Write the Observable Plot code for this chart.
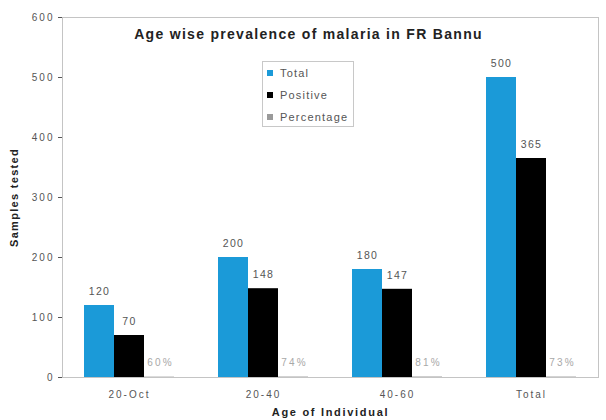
<!DOCTYPE html>
<html>
<head>
<meta charset="utf-8">
<script src="https://cdn.jsdelivr.net/npm/d3@7"></script>
<script src="https://cdn.jsdelivr.net/npm/@observablehq/plot@0.6"></script>
<style>
  html, body { margin: 0; padding: 0; background: #fff; }
  #chart { position: relative; width: 606px; height: 420px; font-family: "Liberation Sans", Arial, sans-serif; }
  #chart svg { display: block; }
  #chart g[aria-label="x-axis tick label"] text { letter-spacing: 2px; }
  #chart g[aria-label="y-axis tick label"] text { letter-spacing: 2px; }
  #chart g[aria-label="x-axis label"] text { font-weight: bold; fill: #222; font-size: 11px; letter-spacing: 1.7px; }
  #chart g[aria-label="y-axis label"] text { font-weight: bold; fill: #222; font-size: 11px; letter-spacing: 1.3px; }
  .legend { position: absolute; left: 262px; top: 61px; width: 92px; height: 66px;
            border: 1px solid #c8c8c8; background: #fff; box-sizing: border-box;
            padding: 0 0 0 4px; font-size: 11px; color: #555; letter-spacing: 1.2px; }
  .legend .item { display: flex; align-items: center; height: 22px; }
  .legend .sw { width: 6px; height: 6px; margin-right: 7px; }
</style>
</head>
<body>
<div id="chart"></div>
<script>
// Age groups and counts of samples
const ages = ["20-Oct", "20-40", "40-60", "Total"];
const totals = [120, 200, 180, 500];
const positives = [70, 148, 147, 365];
const percentages = [60, 74, 81, 73];

const seriesNames = ["Total", "Positive", "Percentage"];
const seriesColors = ["#1b9ad8", "#000000", "#9a9a9a"];
const yTicks = [0, 100, 200, 300, 400, 500, 600];

const totalRows = ages.map((a, i) => ({age: a, value: totals[i], label: String(totals[i])}));
const positiveRows = ages.map((a, i) => ({age: a, value: positives[i], label: String(positives[i])}));
const pctRows = ages.map((a, i) => ({age: a, value: percentages[i] / 100, label: percentages[i] + "%"}));

// Wraps a text mark's renderer to widen its letter spacing
const spaced = (px) => (index, scales, values, dims, ctx, next) => {
  const g = next(index, scales, values, dims, ctx);
  if (g) g.style.letterSpacing = px + "px";
  return g;
};

const labelStyle = {fontSize: 10.5, fill: "#555", dy: -14, render: spaced(1.4)};

const chart = Plot.plot({
  width: 606,
  height: 420,
  marginLeft: 62,
  marginRight: 8,
  marginTop: 17,
  marginBottom: 43,
  style: {fontFamily: "Liberation Sans, Arial, sans-serif", background: "#fff"},
  x: {type: "band", domain: ages, paddingInner: 0.33, paddingOuter: 0.165},
  y: {domain: [0, 600]},
  marks: [
    Plot.frame({stroke: "#c4c4c4"}),
    Plot.barY(totalRows, {x: "age", y: "value", fill: seriesColors[0], insetRight: 60}),
    Plot.barY(positiveRows, {x: "age", y: "value", fill: seriesColors[1], insetLeft: 30, insetRight: 30}),
    Plot.barY(pctRows, {x: "age", y: "value", fill: seriesColors[2], insetLeft: 60}),
    Plot.text(totalRows, {x: "age", y: "value", text: "label", dx: -30, ...labelStyle}),
    Plot.text(positiveRows, {x: "age", y: "value", text: "label", ...labelStyle}),
    Plot.text(pctRows, {x: "age", y: "value", text: "label", dx: 31, ...labelStyle,
                        fontSize: 10, fill: "#a8a8a8", render: spaced(2.2)}),
    Plot.axisY({ticks: yTicks, tickSize: 4, tickPadding: 4, fontSize: 10, color: "#555",
                label: "Samples tested", labelAnchor: "center", labelOffset: 52, labelArrow: "none"}),
    Plot.axisX({tickSize: 0, tickPadding: 13, fontSize: 10, color: "#555",
                label: "Age of Individual", labelAnchor: "center", labelOffset: 38, labelArrow: "none"}),
    Plot.text(["Age wise prevalence of malaria in FR Bannu"],
              {frameAnchor: "top", dy: 12, dx: -22, fontSize: 14, fontWeight: "bold", fill: "#222", render: spaced(1.3)})
  ]
});

const root = document.getElementById("chart");
root.appendChild(chart);

// Series key inside the plot area
const legend = document.createElement("div");
legend.className = "legend";
seriesNames.forEach((name, i) => {
  const item = document.createElement("div");
  item.className = "item";
  const sw = document.createElement("span");
  sw.className = "sw";
  sw.style.background = seriesColors[i];
  item.appendChild(sw);
  item.appendChild(document.createTextNode(name));
  legend.appendChild(item);
});
root.appendChild(legend);
</script>
</body>
</html>
